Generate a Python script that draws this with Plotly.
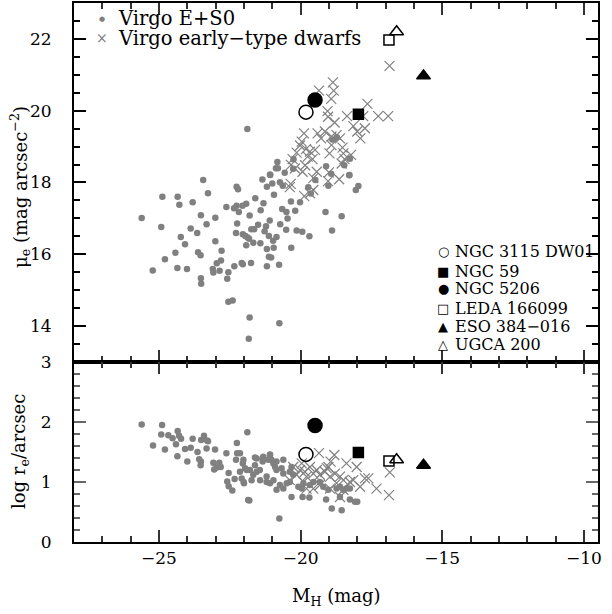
import plotly.graph_objects as go

# ---------------- data ----------------
es0_top_mag = [-25.61,-24.88,-24.92,-25.22,-24.79,-24.34,-24.28,-23.81,-24.23,-24.08,-24.42,-24.35,-24.01,
               -23.88,-23.65,-23.52,-23.44,-23.27,-23.32,-23.62,-23.53,-23.52,-23.51,-23.01,-23.01,-22.79,
               -22.96,-22.81,-23.10,-23.08,-22.86,-22.62,-22.55,-22.59,-22.55,-22.40,-22.34,-22.26,-22.21,
               -22.35,-22.26,-22.18,-22.24,-22.28,-22.08,-22.04,-21.92,-22.05,-21.80,-22.04,-21.95,-21.87,
               -21.82,-21.92,-21.74,-21.64,-21.60,-21.67,-21.75,-21.80,-21.83,-21.50,-21.42,-21.41,-21.31,
               -21.35,-21.27,-21.22,-21.19,-21.19,-21.12,-21.04,-21.07,-21.19,-21.00,-20.94,-21.09,-21.12,
               -20.97,-20.95,-20.85,-20.76,-20.75,-20.87,-20.80,-20.82,-20.73,-20.63,-20.72,-20.65,-20.50,
               -20.46,-20.51,-20.33,-20.34,-20.19,-20.14,-19.94,-20.02,-19.69,-19.73,-19.64,-19.48,-19.12,
               -18.89,-19.02,-18.55,-18.28,-18.05,-17.96,-18.26,-18.46,-21.08,-20.56,-20.25,-20.26,-19.10,
               -18.92,-18.88,-18.72,-18.28,-21.88]
es0_top_mue = [17.01,17.60,16.76,15.55,15.86,17.60,17.38,17.45,16.48,16.28,16.04,15.62,15.59,
               16.72,16.59,17.09,18.07,17.70,16.84,16.06,15.97,15.33,15.18,17.02,16.36,16.10,
               15.75,15.83,15.59,15.49,15.54,17.32,15.50,15.32,14.68,14.71,15.67,17.88,17.81,
               17.28,17.35,17.18,16.86,16.59,15.76,15.72,17.41,17.35,17.08,16.56,16.51,16.47,
               16.43,16.25,16.70,16.70,17.56,16.32,15.76,14.24,13.65,16.82,16.31,17.23,17.42,
               18.08,16.64,16.78,16.15,15.67,15.93,15.91,18.21,17.88,17.97,17.66,16.94,16.51,
               16.38,16.18,16.48,15.71,14.08,18.40,18.40,18.57,18.01,17.91,16.84,17.26,17.18,
               17.00,16.68,16.18,17.47,17.21,16.66,16.63,17.45,16.50,17.87,17.69,18.07,17.18,
               16.66,17.91,17.06,18.21,17.79,17.90,18.66,18.48,18.22,18.27,18.65,18.38,18.45,
               18.24,19.20,19.26,18.20,19.49]

dw_top_mag = [-16.86,-18.86,-18.83,-18.92,-19.35,-19.05,-19.03,-18.80,-18.36,-17.79,-17.64,-17.26,-16.91,
              -18.14,-18.00,-17.73,-17.89,-19.88,-19.40,-19.14,-19.28,-18.91,-18.73,-18.61,-19.96,-20.02,
              -19.81,-20.14,-19.67,-19.49,-19.75,-19.58,-18.91,-18.98,-18.52,-18.49,-18.22,-18.45,-18.55,
              -20.28,-20.34,-19.84,-19.93,-19.43,-19.55,-19.00,-19.03,-18.64,-20.35,-20.38,-19.55,-19.67,
              -19.87,-20.20]
dw_top_mue = [21.25,20.79,20.56,20.33,20.56,19.99,19.83,19.67,19.85,19.85,20.19,19.85,19.85,
              19.57,19.42,19.51,19.23,19.37,19.37,19.42,19.23,19.28,19.32,19.23,19.14,19.03,
              18.93,18.83,18.86,18.91,18.72,18.65,19.04,18.81,18.97,18.81,18.77,18.65,18.53,
              18.65,18.49,18.48,18.30,18.30,18.12,18.28,18.04,18.09,17.96,17.87,17.79,17.70,
              17.62,18.39]

es0_bot_mag = [-25.61,-24.89,-24.92,-24.34,-24.29,-24.22,-25.21,-24.79,-24.40,-24.08,-23.88,-24.35,-24.00,
               -23.81,-23.51,-23.41,-23.27,-23.64,-23.58,-23.52,-23.53,-23.32,-23.02,-23.08,-23.05,-22.96,
               -22.87,-22.82,-22.62,-22.54,-22.59,-22.54,-22.41,-22.33,-22.25,-22.24,-22.28,-21.88,-22.02,
               -22.04,-21.96,-21.90,-22.01,-21.85,-22.14,-21.79,-22.14,-22.08,-22.00,-21.73,-21.67,-21.61,
               -21.55,-21.55,-21.32,-21.34,-21.14,-21.08,-20.96,-20.90,-20.85,-20.67,-20.61,-20.38,-20.26,
               -21.43,-21.20,-21.08,-20.96,-20.73,-20.49,-20.38,-20.08,-19.96,-19.90,-19.67,-19.55,-19.32,
               -19.20,-19.02,-18.73,-18.61,-18.49,-18.38,-18.26,-20.85,-20.61,-21.81,-20.32,-19.93,-19.69,
               -19.10,-18.61,-18.26,-18.08,-18.00,-18.90,-18.55,-20.75,-21.61,-21.32,-21.08,-21.03,-20.85,
               -20.61,-20.32,-21.44,-21.20,-24.67,-24.52,-23.30]
es0_bot_logre = [1.96,1.95,1.79,1.85,1.77,1.72,1.61,1.54,1.63,1.55,1.57,1.43,1.34,
                 1.72,1.70,1.77,1.68,1.50,1.38,1.34,1.28,1.56,1.54,1.32,1.21,1.24,
                 1.32,1.25,1.48,1.15,1.01,0.93,0.86,1.05,1.65,1.48,1.37,1.83,1.37,
                 1.31,1.23,1.20,1.00,0.70,1.48,1.20,1.17,1.06,0.98,1.03,1.12,1.28,
                 1.17,1.39,1.42,1.34,1.37,1.45,1.31,1.25,1.20,1.23,1.14,1.17,1.12,
                 1.03,1.00,0.98,1.03,0.95,0.98,1.00,0.92,0.89,0.98,0.95,1.00,1.00,
                 0.92,0.87,0.89,0.92,0.87,0.89,0.89,0.87,0.89,0.69,0.75,0.75,0.74,
                 0.71,0.75,0.71,0.67,0.67,0.56,0.53,0.39,1.41,1.39,1.46,1.37,1.34,
                 1.37,1.25,1.20,1.09,1.78,1.73,1.69]

dw_bot_mag = [-19.35,-18.81,-18.94,-19.02,-18.38,-18.02,-16.85,-20.26,-20.02,-19.85,-19.79,-19.55,-19.43,
              -19.32,-19.14,-19.08,-18.96,-18.79,-18.61,-18.49,-18.26,-18.14,-17.90,-17.73,-17.61,-17.32,
              -16.88,-18.61,-19.90,-19.55,-19.32,-19.79,-18.96,-18.73,-18.49,-20.38,-20.14,-19.96,-19.67]
dw_bot_logre = [1.48,1.45,1.34,1.25,1.31,1.25,1.16,1.25,1.20,1.17,1.09,1.14,1.20,
                1.12,1.17,1.23,1.09,1.14,1.09,1.03,1.00,1.03,0.92,1.06,1.06,0.89,
                0.78,0.75,1.00,0.89,0.95,0.89,0.89,0.98,0.87,1.03,1.12,1.31,1.25]

special_names = ["NGC 3115 DW01", "NGC 59", "NGC 5206", "LEDA 166099", "ESO 384\u2212016", "UGCA 200"]
special_mag = [-19.81, -17.96, -19.49, -16.88, -15.66, -16.61]
special_mue = [19.96, 19.90, 20.30, 21.97, 20.97, 22.20]
special_logre = [1.46, 1.49, 1.94, 1.35, 1.28, 1.37]
special_symbols = ["circle-open", "square", "circle", "square-open", "triangle-up", "triangle-up-open"]
special_sizes = [14, 10, 14, 10, 12, 12]
special_glyphs = ["\u25cb", "\u25a0", "\u25cf", "\u25a1", "\u25b2", "\u25b3"]

x_range = [-28, -9.5]
mue_range = [13, 23]
logre_range = [0, 3]
x_major, x_minor = 5, 1
mue_major, mue_minor = 2, 0.5
logre_major, logre_minor = 1, 0.2

GREY = "#808080"
FONT = "DejaVu Serif"

fig = go.Figure()

fig.add_trace(go.Scatter(x=es0_top_mag, y=es0_top_mue, mode="markers",
                         marker=dict(symbol="circle", size=6.5, color=GREY), xaxis="x", yaxis="y"))
fig.add_trace(go.Scatter(x=dw_top_mag, y=dw_top_mue, mode="markers",
                         marker=dict(symbol="x-thin-open", size=10, color=GREY, line=dict(color=GREY, width=1.2)),
                         xaxis="x", yaxis="y"))
fig.add_trace(go.Scatter(x=es0_bot_mag, y=es0_bot_logre, mode="markers",
                         marker=dict(symbol="circle", size=6.5, color=GREY), xaxis="x2", yaxis="y2"))
fig.add_trace(go.Scatter(x=dw_bot_mag, y=dw_bot_logre, mode="markers",
                         marker=dict(symbol="x-thin-open", size=10, color=GREY, line=dict(color=GREY, width=1.2)),
                         xaxis="x2", yaxis="y2"))

for i in range(len(special_names)):
    for (xa, ya, yv) in (("x", "y", special_mue[i]), ("x2", "y2", special_logre[i])):
        fig.add_trace(go.Scatter(x=[special_mag[i]], y=[yv], mode="markers",
                                 marker=dict(symbol=special_symbols[i], size=special_sizes[i], color="black",
                                             line=dict(color="black", width=1.5)),
                                 xaxis=xa, yaxis=ya))

for xa, ya, yv in (("x3", "y3", special_mue[0]), ("x5", "y5", special_mue[0]), ("x7", "y7", special_mue[0]),
                   ("x4", "y4", special_logre[0]), ("x6", "y6", special_logre[0]), ("x8", "y8", special_logre[0])):
    fig.add_trace(go.Scatter(x=[special_mag[0]], y=[yv], mode="markers", marker=dict(opacity=0),
                             hoverinfo="skip", xaxis=xa, yaxis=ya))

def ax(rng, dtick, ticklen, line, labels, tcol, zl, **kw):
    d = dict(range=rng, tickmode="linear", tick0=0, dtick=dtick, ticks="inside", ticklen=ticklen,
             tickcolor=tcol, tickwidth=1.6, showline=line, linecolor="black", linewidth=2,
             showgrid=False, showticklabels=labels, automargin=False,
             tickfont=dict(family=FONT, size=17, color="black"))
    if zl is False:
        d["zeroline"] = False
    d.update(kw)
    return d

# tick colour / zeroline variants per axis family
XT = ("#333333", False)
YT = ("black", None)
X2 = ("#333333", None)
Y2 = ("#666666", False)

TOP = [0.334, 1]
BOT = [0, 0.334]
layout_axes = dict(
    xaxis=ax(x_range, x_major, 12, True, False, *XT, domain=[0, 1], anchor="y", side="bottom"),
    yaxis=ax(mue_range, mue_major, 12, True, True, *YT, domain=TOP, anchor="x", side="left",
             ticksuffix="\u2003"),
    xaxis3=ax(x_range, x_minor, 6, False, False, *XT, overlaying="x", anchor="y", side="bottom"),
    yaxis3=ax(mue_range, mue_minor, 6, False, False, *YT, overlaying="y", anchor="x", side="left"),
    xaxis5=ax(x_range, x_major, 12, True, False, *XT, overlaying="x", anchor="y", side="top"),
    yaxis5=ax(mue_range, mue_major, 12, True, False, *YT, overlaying="y", anchor="x", side="right"),
    xaxis7=ax(x_range, x_minor, 6, False, False, *XT, overlaying="x", anchor="y", side="top"),
    yaxis7=ax(mue_range, mue_minor, 6, False, False, *YT, overlaying="y", anchor="x", side="right"),
    xaxis2=ax(x_range, x_major, 12, True, True, *X2, domain=[0, 1], anchor="y2", side="bottom"),
    yaxis2=ax(logre_range, logre_major, 12, True, True, *Y2, domain=BOT, anchor="x2", side="left",
              ticksuffix="\u2003"),
    xaxis4=ax(x_range, x_minor, 6, False, False, *X2, overlaying="x2", anchor="y2", side="bottom"),
    yaxis4=ax(logre_range, logre_minor, 6, False, False, *Y2, overlaying="y2", anchor="x2", side="left"),
    xaxis6=ax(x_range, x_major, 12, True, False, *X2, overlaying="x2", anchor="y2", side="top"),
    yaxis6=ax(logre_range, logre_major, 12, True, False, *Y2, overlaying="y2", anchor="x2", side="right"),
    xaxis8=ax(x_range, x_minor, 6, False, False, *X2, overlaying="x2", anchor="y2", side="top"),
    yaxis8=ax(logre_range, logre_minor, 6, False, False, *Y2, overlaying="y2", anchor="x2", side="right"),
)

fig.update_layout(
    width=612, height=614,
    margin=dict(l=74, r=14, t=3, b=72),
    paper_bgcolor="white", plot_bgcolor="white",
    showlegend=False,
    font=dict(family=FONT, color="black"),
    **layout_axes,
)

def px2paper(px, py):
    return (px - 74) / 524.0, (542 - py) / 539.0

anns = []
x, y = px2paper(20, 187)
anns.append(dict(text="\u03bc<sub>e</sub> (mag arcsec<sup>\u22122</sup>)", x=x, y=y, textangle=-90,
                 font=dict(size=18)))
x, y = px2paper(20, 452)
anns.append(dict(text="log r<sub>e</sub>/arcsec", x=x, y=y, textangle=-90, font=dict(size=18)))
x, y = px2paper(336, 597)
anns.append(dict(text="M<sub>H</sub> (mag)", x=x, y=y, font=dict(size=18)))

left_items = [("\u25cf", "Virgo E+S0", 19, 7), ("\u00d7", "Virgo early\u2212type dwarfs", 38, 14)]
for glyph, label, py, gs in left_items:
    x, y = px2paper(102, py)
    anns.append(dict(text=glyph, x=x, y=y, xanchor="center", font=dict(size=gs, color=GREY)))
    x, y = px2paper(116, py)
    anns.append(dict(text=label, x=x, y=y, xanchor="left", font=dict(size=19.5)))

right_y = [252, 271, 289, 308, 326, 344]
for glyph, name, py in zip(special_glyphs, special_names, right_y):
    x, y = px2paper(443, py)
    anns.append(dict(text=glyph, x=x, y=y, xanchor="center", font=dict(size=13, family="DejaVu Sans")))
    x, y = px2paper(453, py)
    anns.append(dict(text=name, x=x, y=y, xanchor="left", font=dict(size=16)))

for a in anns:
    a.update(xref="paper", yref="paper", showarrow=False, yanchor="middle")
    if "xanchor" not in a:
        a["xanchor"] = "center"
    a["font"].setdefault("family", FONT)
    a["font"].setdefault("color", "black")

fig.update_layout(annotations=anns)
fig.write_html("out.html", config={"displayModeBar": False},
               post_script="document.body.style.margin='0';document.body.style.overflow='hidden';")
